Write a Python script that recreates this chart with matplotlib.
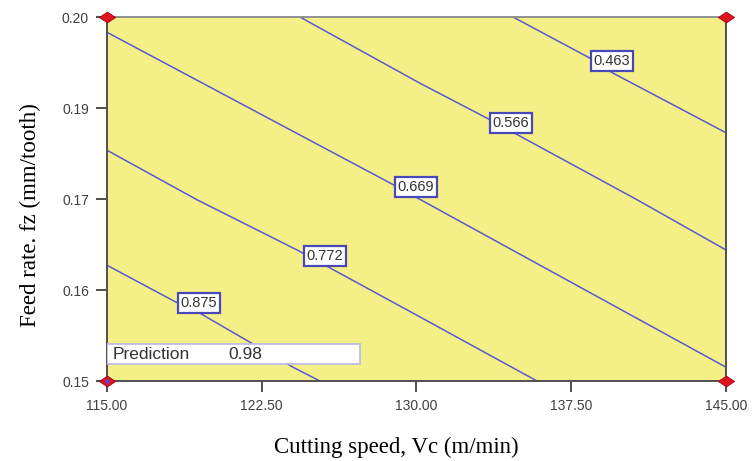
import matplotlib.pyplot as plt
from matplotlib.markers import MarkerStyle
from matplotlib.transforms import Affine2D

# contour lines (cutting speed, feed rate)
levels = ["0.463", "0.566", "0.669", "0.772", "0.875"]
line_vc = {
    "0.463": [134.68, 138.31, 139.52, 145.00],
    "0.566": [124.35, 130.17, 133.42, 140.69, 145.00],
    "0.669": [115.00, 128.72, 130.07, 145.00],
    "0.772": [115.00, 119.36, 124.21, 125.57, 130.17, 135.84],
    "0.875": [115.00, 118.30, 119.51, 124.01, 125.32],
}
line_fz = {
    "0.463": [0.2000, 0.1945, 0.1923, 0.1841],
    "0.566": [0.2000, 0.1909, 0.1861, 0.1749, 0.1680],
    "0.669": [0.1979, 0.1772, 0.1751, 0.1519],
    "0.772": [0.1817, 0.1749, 0.1680, 0.1659, 0.1588, 0.1500],
    "0.875": [0.1659, 0.1609, 0.1593, 0.1519, 0.1500],
}
# where each label sits
label_vc = [139.48, 134.58, 129.98, 125.57, 119.46]
label_fz = [0.1940, 0.18544, 0.17665, 0.16717, 0.16071]

x_ticks = [115.0, 122.5, 130.0, 137.5, 145.0]
x_labels = ["115.00", "122.50", "130.00", "137.50", "145.00"]
y_ticks = [0.15, 0.1625, 0.175, 0.1875, 0.20]
y_labels = ["0.15", "0.16", "0.17", "0.19", "0.20"]

corner_vc = [115.0, 115.0, 145.0, 145.0]
corner_fz = [0.15, 0.20, 0.20, 0.15]
prediction = "0.98"

fig = plt.figure(figsize=(7.52, 4.61), dpi=100)
ax = fig.add_axes([0.1423, 0.1735, 0.8231, 0.7896])
ax.set_facecolor("#f5ef87")

line_color = "#5a5ad0"
for i, lev in enumerate(levels):
    ax.plot(line_vc[lev], line_fz[lev], color=line_color, lw=1.1, zorder=2)
    ax.text(label_vc[i], label_fz[i], lev, fontsize=10.5, color="#333333",
            family="Liberation Sans", ha="center", va="center", zorder=4,
            bbox=dict(boxstyle="square,pad=0.2", fc="white",
                      ec="#4848b8", lw=1.6))

# prediction box
ax.text(115.25, 0.1537, "Prediction", fontsize=12.5, color="#333333",
        family="Liberation Sans", ha="left", va="center", zorder=5)
ax.text(120.9, 0.1537, prediction, fontsize=12.5, color="#333333",
        family="Liberation Sans", ha="left", va="center", zorder=5)
ax.add_patch(plt.Rectangle((115.0, 0.15234), 12.26, 0.00274, fc="white",
                           ec="#b8b8e8", lw=1.2, zorder=4.5))

# design points at the corners
diamond = MarkerStyle("D", transform=Affine2D().scale(1.5, 1.0))
ax.scatter(corner_vc, corner_fz, marker=diamond, s=30, c="#e0141e",
           edgecolors="#a00010", lw=0.6, zorder=6, clip_on=False)
ax.scatter([115.0], [0.15], s=6, c="#6a40c0", zorder=7, clip_on=False)

ax.set_xlim(115, 145)
ax.set_ylim(0.15, 0.20)
ax.set_xticks(x_ticks)
ax.set_xticklabels(x_labels)
ax.set_yticks(y_ticks)
ax.set_yticklabels(y_labels)
ax.tick_params(direction="out", length=8, width=1.3, color="#404040",
               labelsize=10, labelcolor="#404040", pad=5)
for lab in ax.get_xticklabels() + ax.get_yticklabels():
    lab.set_family("Liberation Sans")
for side in ax.spines:
    ax.spines[side].set_color("#505050")
    ax.spines[side].set_linewidth(1.4)
ax.spines["top"].set_color("#909090")

ax.set_xlabel("Cutting speed, Vc (m/min)", family="Liberation Serif",
              fontsize=16.5, labelpad=17)
ax.set_ylabel("Feed rate. fz (mm/tooth)", family="Liberation Serif",
              fontsize=16.5, labelpad=15)
# labels sit a bit off-centre in the original
ax.xaxis.label.set_x(0.468)
ax.yaxis.label.set_y(0.456)

fig.savefig("out.png", dpi=100)
